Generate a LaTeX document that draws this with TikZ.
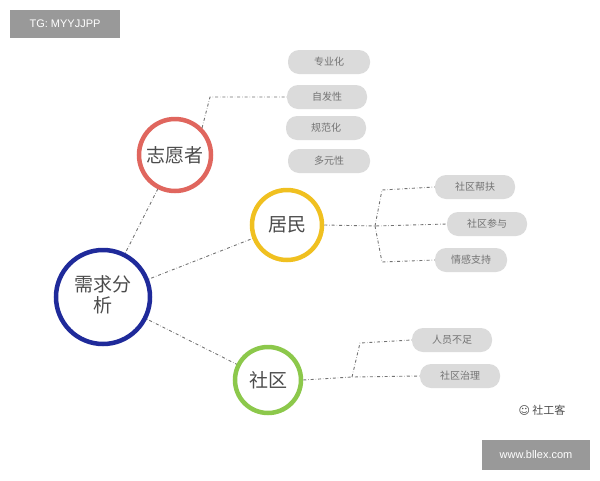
\documentclass[tikz,border=0pt]{standalone}
\usepackage{fontspec}
\setmainfont{Liberation Sans}
\newfontfamily\cjk{Noto Sans CJK SC}
\newfontfamily\djv{DejaVu Sans}
\definecolor{cred}{HTML}{E0665E}
\definecolor{cyel}{HTML}{F0C020}
\definecolor{cblu}{HTML}{1F2A9A}
\definecolor{cgrn}{HTML}{8CC84B}
\begin{document}
\begin{tikzpicture}[x=1pt,y=-1pt,
  circ/.style={circle,line width=4.5pt,fill=white,font=\cjk\fontsize{19}{19}\selectfont,text=black!70,inner sep=0pt},
  pill/.style={rounded corners=11pt,fill=black!14,minimum height=24pt,font=\cjk\fontsize{10}{10}\selectfont,text=black!55,inner sep=0pt},
  link/.style={dash dot,draw=black!55,line width=0.9pt},
  wm/.style={fill=black!40,text=white,inner sep=0pt,font=\fontsize{11}{11}\selectfont}]
\useasboundingbox (0,0) rectangle (600,480);
\node[wm,minimum width=110pt,minimum height=28pt] (tg) at (65,24) {TG: MYYJJPP};
\node[wm,minimum width=108pt,minimum height=30pt] (www) at (536,455) {www.bllex.com};
\node[font=\cjk\fontsize{11}{11}\selectfont,text=black!70] (sgk) at (542,410) {{\djv\char"263A}~社工客};
\coordinate (c1) at (175,155); \coordinate (c2) at (287,225);
\coordinate (c3) at (103,297); \coordinate (c4) at (268,380);
\draw[link] (c3) -- (c1); \draw[link] (c3) -- (c2); \draw[link] (c3) -- (c4);
\node[circ,draw=cred,minimum size=72pt] (zy) at (c1) {志愿者};
\node[circ,draw=cyel,minimum size=70pt] (jm) at (c2) {居民};
\node[circ,draw=cblu,minimum size=94pt] (xq) at (c3) {\begin{tabular}{@{}c@{}}需求分\\析\end{tabular}};
\node[circ,draw=cgrn,minimum size=66pt] (sq) at (c4) {社区};
\node[pill,minimum width=82pt] (p1) at (329,62) {专业化};
\node[pill,minimum width=80pt] (p2) at (327,97) {自发性};
\node[pill,minimum width=80pt] (p3) at (326,128) {规范化};
\node[pill,minimum width=82pt] (p4) at (329,161) {多元性};
\node[pill,minimum width=80pt] (q1) at (475,187) {社区帮扶};
\node[pill,minimum width=80pt] (q2) at (487,224) {社区参与};
\node[pill,minimum width=72pt] (q3) at (471,260) {情感支持};
\node[pill,minimum width=80pt] (r1) at (452,340) {人员不足};
\node[pill,minimum width=80pt] (r2) at (460,376) {社区治理};
\draw[link] (zy.45) -- (210,97) -- (p2.west);
\draw[link] (jm.east) -- (375,226) -- (q2.west);
\draw[link] (375,226) -- (382,190) -- (q1.west);
\draw[link] (375,226) -- (382,262) -- (q3.west);
\draw[link] (sq.east) -- (352,377) -- (r2.west);
\draw[link] (352,377) -- (360,343) -- (r1.west);
\end{tikzpicture}
\end{document}
